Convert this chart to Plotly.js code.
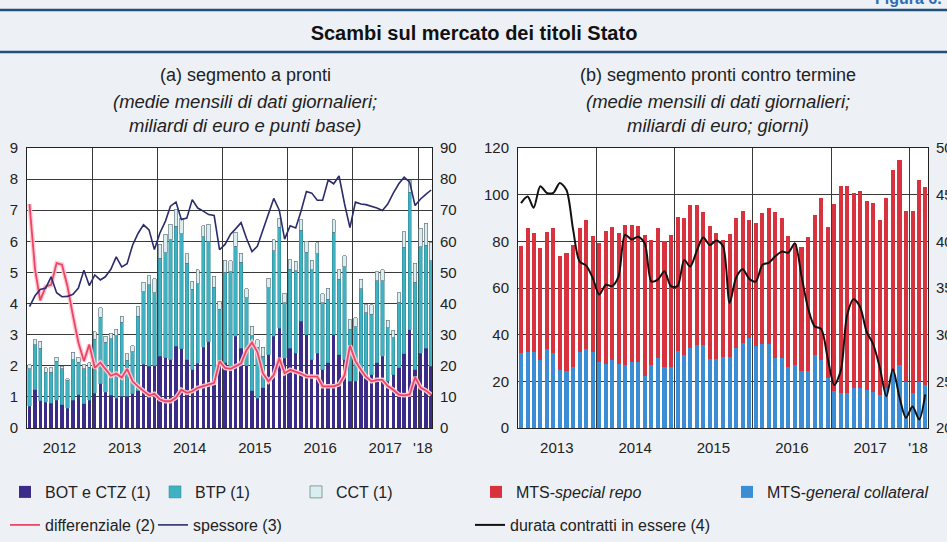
<!DOCTYPE html>
<html><head><meta charset="utf-8">
<script src="https://cdn.plot.ly/plotly-3.0.1.min.js"></script>
<style>html,body{margin:0;padding:0;background:#edf1f6;} #chart{width:947px;height:542px;}</style>
</head><body><div id="chart"></div>
<script>
// ---------- Panel (a): segmento a pronti (Jan 2012 - Mar 2018), miliardi di euro ----------
const botCtz = [
  0.70,1.23,0.88,0.82,0.80,0.90,0.75,0.64,0.90,1.07,0.78,0.90,
  1.12,1.43,1.15,1.05,0.96,1.02,1.02,1.10,1.20,2.05,1.98,2.00,
  2.30,2.26,2.20,2.62,2.55,2.20,1.87,2.08,2.60,2.78,1.55,2.00,
  2.10,1.95,2.95,2.57,2.00,1.20,0.95,1.30,2.36,2.95,3.20,2.25,
  2.57,2.41,3.43,3.00,2.20,2.41,1.88,2.09,3.00,2.36,2.20,1.50,
  1.50,1.88,1.71,1.71,2.09,2.30,1.50,1.71,1.93,2.39,3.16,1.88,
  2.41,2.57,1.98];
const btp = [
  1.21,1.45,1.69,0.97,0.99,1.24,1.15,0.89,1.30,1.04,1.12,1.05,
  1.73,2.13,1.60,1.82,2.00,2.38,1.16,1.35,2.40,2.33,2.62,2.35,
  3.15,3.37,3.85,3.86,3.70,3.10,2.59,2.55,3.55,3.22,2.97,1.82,
  2.90,3.08,2.90,2.75,2.18,1.77,1.64,1.00,2.15,2.75,3.25,1.78,
  2.54,2.65,2.92,2.65,2.89,3.19,2.14,2.05,3.30,2.42,2.99,1.68,
  1.75,2.60,2.00,1.95,2.64,2.43,1.72,1.19,2.11,3.42,4.41,2.81,
  3.41,3.31,3.39];
const cct = [
  0.13,0.16,0.22,0.14,0.14,0.13,0.08,0.05,0.24,0.17,0.14,0.15,
  0.25,0.30,0.20,0.18,0.22,0.20,0.20,0.20,0.30,0.30,0.30,0.45,
  0.45,0.60,0.50,0.55,0.50,0.30,0.25,0.45,0.35,0.55,0.35,0.25,
  0.40,0.35,0.45,0.30,0.30,0.30,0.25,0.30,0.30,0.35,0.30,0.30,
  0.30,0.30,0.35,0.35,0.30,0.35,0.30,0.35,0.40,0.30,0.35,0.30,
  0.30,0.30,0.25,0.30,0.30,0.35,0.25,0.25,0.30,0.50,0.40,0.60,
  0.60,0.70,0.60];
// punti base (right axis)
const differenziale = [
  72,51,41,45.5,46,53,52.5,45.5,36,27.5,21.5,26.8,
  19.3,21,19,16.8,17.5,16.2,19,15,13.3,11.8,10.5,11,
  9.2,8.6,8.6,9.8,12.3,11.3,11.8,12.9,13.4,13.9,14.5,21.5,
  19.3,19,19.8,20.8,25,27.5,24.5,17.6,15,17,22.4,17.6,
  18.7,18.2,17.5,16.6,16.5,16.5,13.4,13.4,13.4,14,17,26.5,
  21.5,18.7,16.5,15,15.5,15.5,13.5,12.3,10.7,10.5,10.8,16.3,
  13,12,10.7];
const spessore = [
  39,42.5,44.5,45,48.6,43.5,42.2,42.3,43,45,50.7,45.8,
  49.2,47.6,48.6,51,55,51.8,52.8,58.8,62.6,65.3,63.7,57.4,
  62.7,66.5,71.3,72.6,67,67.5,73.4,70.7,69.7,68.6,68.3,57.3,
  59,62.3,64,66,61,56.7,58.4,63.7,68.7,73.8,70,60.7,
  65,64.3,69.5,76,75.5,73.2,73.2,79.7,78.5,81,72,64.4,
  72.6,72,71.8,71.3,70.7,69.9,72,75.5,78.5,80.6,79,71.5,
  73.6,75.2,76.5];

// ---------- Panel (b): pronti contro termine (Jan 2013 - Mar 2018) ----------
const generalCollateral = [
  32,32.5,32.5,29,34,32,25,24.5,26,32.5,34,32.5,
  28.5,27.3,29,27.3,27,28.5,28.5,22.5,27,30,26.3,26.3,
  33,31.3,34.5,35.5,35.5,29.5,29.5,30.5,30.3,34.3,36.5,38.7,
  35,36.1,36.1,30,30,26.3,27.1,24.3,24.3,31.4,29.3,21.4,
  15.7,15,15,17.1,17.1,16.4,15.3,14.3,17,24.5,27.1,19.8,
  15,19.6,18.6];
const specialRepo = [
  46,53.2,51.1,48,50,53.7,48.6,50.5,52.3,53.2,55.3,49.6,
  50.8,57.2,57,56.3,60.1,58.6,58.2,60.4,53.5,55.7,54,56.6,
  57.3,58.7,61.2,60.2,57.2,57.1,54,50,53,55.7,56.4,50.3,
  52.9,56.2,58.2,62.6,60,56.2,51.9,53.1,57.7,60.1,69.3,64.7,
  80.1,88.7,88.7,83.7,84.6,80.7,81.1,75,81.6,85.9,87.6,73.2,
  77.8,86.5,84.7];
// giorni (right axis)
const durata = [
  44.1,44.8,43.6,45.9,45.2,45.2,46.25,45.5,41.25,37.85,37.4,36.1,
  34.3,35.35,35.2,36.25,40.7,40.2,40.5,39.8,35.7,35.9,36.8,35.2,
  35.2,38,37.3,39,40.4,39.6,40.1,39.5,33.4,36.1,37,36,
  35.7,37.5,37.7,38.4,38.9,38.8,39.8,36.3,32.8,30.9,30.6,27.5,
  24.6,26.2,32,33.8,33,30.3,29,26.5,23.4,26.3,23.3,21.1,
  22.3,20.9,23.6];

// ---------- ticks ----------
const tickValsA = ['2012-07-01','2013-07-01','2014-07-01','2015-07-01','2016-07-01','2017-07-01','2018-01-28'];
const tickTextA = ['2012','2013','2014','2015','2016','2017',"'18"];
const tickValsB = ['2013-07-01','2014-07-01','2015-07-01','2016-07-01','2017-07-01','2018-02-10'];
const tickTextB = ['2013','2014','2015','2016','2017',"'18"];
const yearStartsA = ['2013-01-01','2014-01-01','2015-01-01','2016-01-01','2017-01-01','2018-01-01'];
const yearStartsB = ['2014-01-01','2015-01-01','2016-01-01','2017-01-01','2018-01-01'];

function months(y0, m0, n){
  const out=[];
  for(let i=0;i<n;i++){
    const y=y0+Math.floor((m0-1+i)/12), m=(m0-1+i)%12+1;
    out.push(y+'-'+String(m).padStart(2,'0')+'-15');
  }
  return out;
}
const monthsA = months(2012,1,botCtz.length);
const monthsB = months(2013,1,generalCollateral.length);

const W=947, H=542;
const FONT='Liberation Sans, Arial, sans-serif';
const DAY=864e5, BW=19*DAY;
const px = v => v/W, py = v => 1 - v/H;

const traces = [
  {type:'bar', x:monthsA, y:botCtz, width:BW, name:'BOT e CTZ (1)', xaxis:'x', yaxis:'y', legend:'legend',
   marker:{color:'#3b2c8a', line:{width:0}}, hoverinfo:'skip'},
  {type:'bar', x:monthsA, y:btp, width:BW, name:'BTP (1)', xaxis:'x', yaxis:'y', legend:'legend2',
   marker:{color:'#40b1c1', line:{color:'#2a8594', width:0.5}}, hoverinfo:'skip'},
  {type:'bar', x:monthsA, y:cct, width:BW, name:'CCT (1)', xaxis:'x', yaxis:'y', legend:'legend3',
   marker:{color:'#d8eef1', line:{color:'#66777d', width:0.7}}, hoverinfo:'skip'},
  {type:'scatter', mode:'lines', x:monthsA, y:differenziale, xaxis:'x', yaxis:'y2', showlegend:false,
   line:{color:'rgba(255,200,210,0.95)', width:4.5}, hoverinfo:'skip'},
  {type:'scatter', mode:'lines', x:monthsA, y:differenziale, name:'differenziale (2)', xaxis:'x', yaxis:'y2', legend:'legend4',
   line:{color:'#ee4466', width:1.8}, hoverinfo:'skip'},
  {type:'scatter', mode:'lines', x:monthsA, y:spessore, name:'spessore (3)', xaxis:'x', yaxis:'y2', legend:'legend5',
   line:{color:'#2b2c6c', width:1.6}, hoverinfo:'skip'},
  {type:'bar', x:monthsB, y:generalCollateral, width:BW, name:'MTS-<i>general collateral</i>', xaxis:'x2', yaxis:'y3', legend:'legend7',
   marker:{color:'#3b8dd6'}, hoverinfo:'skip'},
  {type:'bar', x:monthsB, y:specialRepo, width:BW, name:'MTS-<i>special repo</i>', xaxis:'x2', yaxis:'y3', legend:'legend6',
   marker:{color:'#d9323f'}, hoverinfo:'skip'},
  {type:'scatter', mode:'lines', x:monthsB, y:durata, name:'durata contratti in essere (4)', xaxis:'x2', yaxis:'y4', legend:'legend8',
   line:{color:'#111', width:2, shape:'spline', smoothing:0.8}, hoverinfo:'skip'}
];

const tickFont = {family:FONT, size:15, color:'#222'};
const gridC = '#3a3a3a';
const yDom = [1-428/H, 1-148/H];

// legend text starts ~44px right of the legend's x
function leg(textX, yPx){
  return {x:(textX-44)/W, y:py(yPx), xanchor:'left', yanchor:'middle', orientation:'h',
          bgcolor:'rgba(0,0,0,0)', borderwidth:0, font:{family:FONT, size:16, color:'#222'}, itemwidth:30};
}

const layout = {
  width:W, height:H, margin:{l:0,r:0,t:0,b:0},
  paper_bgcolor:'#edf1f6', plot_bgcolor:'#ffffff',
  barmode:'stack', bargap:0.35,
  title:{text:'<b>Scambi sul mercato dei titoli Stato</b>', x:474/W, y:py(33), xanchor:'center', yanchor:'middle',
         font:{family:FONT, size:20, color:'#111'}},
  xaxis:{domain:[px(27), px(432)], anchor:'y', type:'date', range:['2012-01-01','2018-03-20'],
         tickmode:'array', tickvals:tickValsA, ticktext:tickTextA, showgrid:false, ticks:'',
         minor:{tickmode:'array', tickvals:yearStartsA, showgrid:true, gridcolor:gridC, gridwidth:1, ticks:''},
         showline:true, mirror:true, linecolor:'#222', linewidth:1, tickfont:tickFont, ticklabelstandoff:6},
  yaxis:{domain:yDom, anchor:'x', range:[0,9], dtick:1, tick0:0, showgrid:true, gridcolor:gridC, gridwidth:1,
         zeroline:false, showline:true, mirror:true, linecolor:'#222', ticks:'', tickfont:tickFont, ticklabelstandoff:5},
  yaxis2:{overlaying:'y', anchor:'x', side:'right', range:[0,90], dtick:10, tick0:0, showgrid:false, zeroline:false,
          ticks:'', tickfont:tickFont, ticklabelstandoff:7},
  xaxis2:{domain:[px(518), px(928)], anchor:'y3', type:'date', range:['2013-01-01','2018-03-28'],
          tickmode:'array', tickvals:tickValsB, ticktext:tickTextB, showgrid:false, ticks:'',
          minor:{tickmode:'array', tickvals:yearStartsB, showgrid:true, gridcolor:gridC, gridwidth:1, ticks:''},
          showline:true, mirror:true, linecolor:'#222', linewidth:1, tickfont:tickFont, ticklabelstandoff:6},
  yaxis3:{domain:yDom, anchor:'x2', range:[0,120], dtick:20, tick0:0, showgrid:true, gridcolor:gridC, gridwidth:1,
          zeroline:false, showline:true, mirror:true, linecolor:'#222', ticks:'', tickfont:tickFont, ticklabelstandoff:5},
  yaxis4:{overlaying:'y3', anchor:'x2', side:'right', range:[20,50], dtick:5, tick0:20, showgrid:false, zeroline:false,
          ticks:'', tickfont:tickFont, ticklabelstandoff:7},
  legend:leg(49,492), legend2:leg(199,492), legend3:leg(340,492),
  legend4:leg(49,525), legend5:leg(197,525),
  legend6:leg(520,492), legend7:leg(771,492), legend8:leg(514,525),
  shapes:[
    {type:'line', xref:'paper', yref:'paper', x0:0, x1:1, y0:py(10), y1:py(10), line:{color:'#22507d', width:2.5}},
    {type:'line', xref:'paper', yref:'paper', x0:0, x1:1, y0:py(52), y1:py(52), line:{color:'#22507d', width:2.5}}
  ],
  annotations:[
    {text:'<b>Figura 6.</b>', xref:'paper', yref:'paper', x:px(873), y:py(-1), xanchor:'left', yanchor:'middle', showarrow:false,
     font:{family:FONT, size:16, color:'#2e6db4'}},
    {text:'(a) segmento a pronti', xref:'paper', yref:'paper', x:px(245), y:py(75), xanchor:'center', yanchor:'middle', showarrow:false,
     font:{family:FONT, size:18, color:'#222'}},
    {text:'<i>(medie mensili di dati giornalieri;</i>', xref:'paper', yref:'paper', x:px(245), y:py(101), xanchor:'center', yanchor:'middle', showarrow:false,
     font:{family:FONT, size:18.5, color:'#222'}},
    {text:'<i>miliardi di euro e punti base)</i>', xref:'paper', yref:'paper', x:px(245), y:py(126), xanchor:'center', yanchor:'middle', showarrow:false,
     font:{family:FONT, size:18.5, color:'#222'}},
    {text:'(b) segmento pronti contro termine', xref:'paper', yref:'paper', x:px(718), y:py(75), xanchor:'center', yanchor:'middle', showarrow:false,
     font:{family:FONT, size:18, color:'#222'}},
    {text:'<i>(medie mensili di dati giornalieri;</i>', xref:'paper', yref:'paper', x:px(718), y:py(101), xanchor:'center', yanchor:'middle', showarrow:false,
     font:{family:FONT, size:18.5, color:'#222'}},
    {text:'<i>miliardi di euro; giorni)</i>', xref:'paper', yref:'paper', x:px(718), y:py(126), xanchor:'center', yanchor:'middle', showarrow:false,
     font:{family:FONT, size:18.5, color:'#222'}}
  ]
};

Plotly.newPlot('chart', traces, layout, {staticPlot:true, displayModeBar:false});
</script></body></html>
